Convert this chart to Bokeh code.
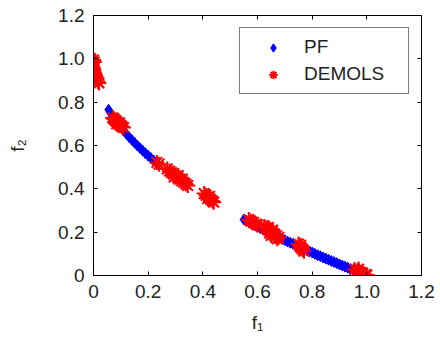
from bokeh.plotting import figure
from bokeh.models import Range1d, FixedTicker, LinearAxis, Legend, LegendItem
from bokeh.embed import file_html
from bokeh.resources import INLINE

# Pareto front (blue diamonds)
pf_f1 = [0.055, 0.06, 0.065, 0.07, 0.08, 0.09, 0.10, 0.11, 0.12, 0.13, 0.14, 0.15, 0.16, 0.17, 0.18,
         0.19, 0.20, 0.21, 0.22, 0.23, 0.235,
         0.55, 0.56, 0.57, 0.58, 0.59, 0.60, 0.61, 0.62, 0.63, 0.64, 0.65, 0.66, 0.67, 0.68,
         0.69, 0.70, 0.71, 0.72, 0.73, 0.74, 0.75, 0.76, 0.77, 0.78, 0.79, 0.80, 0.81, 0.82,
         0.83, 0.84, 0.85, 0.86, 0.87, 0.88, 0.89, 0.90, 0.91, 0.92, 0.93, 0.94, 0.95, 0.96,
         0.97, 0.98, 0.99, 1.00]
pf_f2 = [0.765, 0.755, 0.745, 0.735, 0.717, 0.700, 0.684, 0.668, 0.654, 0.639, 0.626, 0.613, 0.600,
         0.588, 0.576, 0.564, 0.553, 0.542, 0.531, 0.520, 0.515,
         0.258, 0.252, 0.245, 0.238, 0.232, 0.225, 0.219, 0.213, 0.206, 0.200, 0.194, 0.188,
         0.181, 0.175, 0.169, 0.163, 0.157, 0.151, 0.146, 0.140, 0.134, 0.128, 0.122, 0.117,
         0.111, 0.106, 0.100, 0.094, 0.089, 0.083, 0.078, 0.073, 0.067, 0.062, 0.057, 0.051,
         0.046, 0.041, 0.036, 0.030, 0.025, 0.020, 0.015, 0.010, 0.005, 0.000]

# DEMOLS solutions (red asterisks)
demols_f1 = [-0.010, -0.008, -0.005, -0.008, -0.003, 0.000, -0.004, 0.002, 0.004, 0.006, 0.008,
             0.012, 0.016, 0.020, 0.000, 0.003,
             0.070, 0.075, 0.080, 0.085, 0.090, 0.095, 0.100, 0.105, 0.110, 0.085, 0.095,
             0.232, 0.240,
             0.270, 0.278, 0.285, 0.292, 0.300, 0.308, 0.315, 0.322, 0.330, 0.338, 0.345,
             0.295, 0.310, 0.325,
             0.405, 0.412, 0.420, 0.428, 0.435, 0.440, 0.418, 0.425,
             0.568, 0.575, 0.585, 0.595, 0.600,
             0.625, 0.632, 0.640, 0.648, 0.655, 0.662, 0.670, 0.678, 0.645, 0.655, 0.665,
             0.640, 0.672, 0.650,
             0.750, 0.755, 0.760, 0.765, 0.770, 0.758,
             0.955, 0.965, 0.975, 0.985, 0.995, 1.000, 0.970]
demols_f2 = [1.000, 0.990, 0.980, 0.970, 0.965, 0.955, 0.950, 0.945, 0.935, 0.925, 0.915,
             0.905, 0.895, 0.888, 0.995, 0.985,
             0.728, 0.722, 0.716, 0.710, 0.703, 0.697, 0.692, 0.687, 0.683, 0.700, 0.705,
             0.522, 0.514,
             0.492, 0.482, 0.475, 0.468, 0.460, 0.452, 0.445, 0.437, 0.430, 0.422, 0.415,
             0.455, 0.462, 0.445,
             0.378, 0.370, 0.362, 0.352, 0.344, 0.338, 0.355, 0.365,
             0.258, 0.252, 0.245, 0.238, 0.233,
             0.226, 0.220, 0.212, 0.205, 0.198, 0.192, 0.185, 0.177, 0.195, 0.210, 0.180,
             0.222, 0.170, 0.185,
             0.145, 0.135, 0.128, 0.120, 0.112, 0.140,
             0.028, 0.022, 0.015, 0.010, 0.005, 0.002, 0.030]

tick_values = [0.0, 0.2, 0.4, 0.6, 0.8, 1.0, 1.2]
tick_labels = ["0", "0.2", "0.4", "0.6", "0.8", "1.0", "1.2"]
series_names = ["PF", "DEMOLS"]

FONT = "Liberation Sans"
TICK_SIZE = "19px"

p = figure(width=440, height=349, output_backend="svg", toolbar_location=None,
           x_range=Range1d(0, 1.2), y_range=Range1d(0, 1.2),
           min_border_left=93, min_border_right=19, min_border_top=15, min_border_bottom=74)
p.xgrid.visible = False
p.ygrid.visible = False
p.outline_line_color = "black"
p.outline_line_width = 1
p.background_fill_color = "white"
p.border_fill_color = "white"

overrides = {v: l for v, l in zip(tick_values, tick_labels)}

def style_axis(ax):
    ax.ticker = FixedTicker(ticks=tick_values)
    ax.minor_tick_line_color = None
    ax.major_tick_in = 4
    ax.major_tick_out = 0
    ax.axis_line_color = "black"
    ax.major_tick_line_color = "black"
    ax.major_label_text_font = FONT
    ax.major_label_text_color = "#222222"
    ax.major_label_text_font_size = TICK_SIZE
    ax.major_label_standoff = 9

for ax in p.xaxis + p.yaxis:
    style_axis(ax)
    ax.major_label_overrides = overrides

p.xaxis.axis_label = "f\u2081"
p.yaxis.axis_label = "f\u2082"
for ax in (p.xaxis[0], p.yaxis[0]):
    ax.axis_label_text_font = FONT
    ax.axis_label_text_font_size = "19px"
    ax.axis_label_text_font_style = "normal"
    ax.axis_label_text_color = "#222222"
p.xaxis.axis_label_standoff = 11
p.yaxis.axis_label_standoff = 27

# box axes (ticks only) on top and right, as in the original
top_ax = LinearAxis()
style_axis(top_ax)
top_ax.major_label_overrides = {v: "" for v in tick_values}
top_ax.major_label_standoff = 0
right_ax = LinearAxis()
style_axis(right_ax)
right_ax.major_label_overrides = {v: "" for v in tick_values}
right_ax.major_label_standoff = 0
p.add_layout(top_ax, "above")
p.add_layout(right_ax, "right")

r_pf = p.scatter(pf_f1, pf_f2, marker="diamond", size=11, fill_color="blue", line_color="blue")
r_de = p.scatter(demols_f1, demols_f2, marker="asterisk", size=15, line_color="red", line_width=2)

legend = Legend(items=[LegendItem(label=series_names[0], renderers=[r_pf]),
                       LegendItem(label=series_names[1], renderers=[r_de])],
                location=(146, 181))
legend.padding = 8
legend.spacing = 5
legend.glyph_width = 50
legend.glyph_height = 21
legend.label_height = 21
legend.label_width = 96
legend.label_standoff = 6
legend.label_text_font = FONT
legend.label_text_font_size = "19px"
legend.label_text_color = "#222222"
legend.border_line_color = "black"
legend.border_line_width = 1
legend.background_fill_color = "white"
legend.background_fill_alpha = 1
legend.margin = 0
p.add_layout(legend, "center")

open("out.html", "w").write(file_html(p, INLINE))
